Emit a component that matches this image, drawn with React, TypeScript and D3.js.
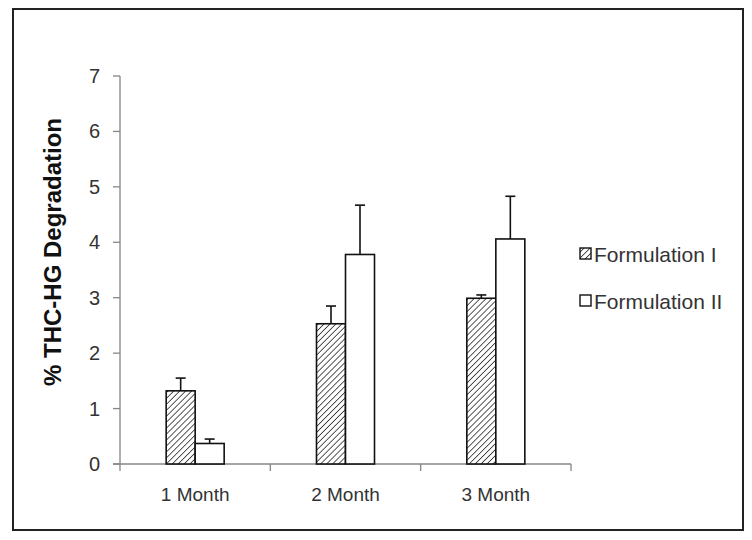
import React from "react";
import * as d3 from "d3";

const categories = ["1 Month", "2 Month", "3 Month"];
const series = ["Formulation I", "Formulation II"];
const formulationI = [1.32, 2.53, 2.99];
const formulationII = [0.37, 3.78, 4.06];
const errorI = [0.23, 0.32, 0.06];
const errorII = [0.08, 0.89, 0.77];
const yTicks = [0, 1, 2, 3, 4, 5, 6, 7];
const yTitle = "% THC-HG Degradation";

const W = 752;
const H = 540;
const FONT = "'Liberation Sans', Arial, sans-serif";

export default function App() {
  const x0 = d3.scaleBand<string>().domain(categories).range([120, 571]).padding(0);
  const barW = 29;
  const x1 = d3
    .scaleBand<string>()
    .domain(series)
    .range([(x0.bandwidth() - 2 * barW) / 2, (x0.bandwidth() + 2 * barW) / 2])
    .padding(0);
  const y = d3.scaleLinear().domain([0, 7]).range([464, 76]);

  const values = [formulationI, formulationII];
  const errors = [errorI, errorII];

  return (
    <svg
      width={W}
      height={H}
      style={{ position: "absolute", left: 0, top: 0, background: "#fff" }}
      fontFamily={FONT}
    >
      <defs>
        <pattern id="hatch" patternUnits="userSpaceOnUse" width="4.2" height="4.2" patternTransform="rotate(45)">
          <rect width="4.2" height="4.2" fill="#fff" />
          <line x1="0" y1="0" x2="0" y2="4.2" stroke="#111" strokeWidth="1.4" />
        </pattern>
      </defs>
      <rect x={0} y={0} width={W} height={H} fill="#fff" />
      <rect x={13} y={9} width={730} height={521} fill="none" stroke="#222" strokeWidth={2} />

      {/* y axis */}
      <line x1={120} x2={120} y1={y(7)} y2={y(0)} stroke="#868686" strokeWidth={1.3} />
      {yTicks.map((t) => (
        <g key={t}>
          <line x1={113} x2={120} y1={y(t)} y2={y(t)} stroke="#868686" strokeWidth={1.3} />
          <text x={100} y={y(t)} dy="0.35em" textAnchor="end" fontSize={20} fill="#333">
            {t}
          </text>
        </g>
      ))}

      {/* x axis */}
      <line x1={113} x2={571} y1={y(0)} y2={y(0)} stroke="#868686" strokeWidth={1.3} />
      {[...categories.map((c) => x0(c) as number), 571].map((v, i) => (
        <line key={i} x1={v} x2={v} y1={y(0)} y2={y(0) + 7} stroke="#868686" strokeWidth={1.3} />
      ))}
      {categories.map((c) => (
        <text
          key={c}
          x={(x0(c) as number) + x0.bandwidth() / 2}
          y={501}
          textAnchor="middle"
          fontSize={19}
          fill="#333"
        >
          {c}
        </text>
      ))}

      {/* bars */}
      {categories.map((c, ci) =>
        series.map((s, si) => {
          const bx = (x0(c) as number) + (x1(s) as number);
          const v = values[si][ci];
          const e = errors[si][ci];
          const cx = bx + barW / 2;
          return (
            <g key={c + s}>
              <line x1={cx} x2={cx} y1={y(v)} y2={y(v + e)} stroke="#111" strokeWidth={1.6} />
              <line x1={cx - 5} x2={cx + 5} y1={y(v + e)} y2={y(v + e)} stroke="#111" strokeWidth={1.6} />
              <rect
                x={bx}
                y={y(v)}
                width={barW}
                height={y(0) - y(v)}
                fill={si === 0 ? "url(#hatch)" : "#fff"}
                stroke="#111"
                strokeWidth={1.6}
              />
            </g>
          );
        })
      )}

      {/* y title */}
      <text
        transform={`translate(61,252) rotate(-90)`}
        textAnchor="middle"
        fontSize={24}
        fontWeight="bold"
        fill="#111"
      >
        {yTitle}
      </text>

      {/* legend */}
      {series.map((s, si) => {
        const cy = 254 + si * 47;
        return (
          <g key={s}>
            <rect
              x={580}
              y={cy - 6}
              width={11}
              height={11}
              fill={si === 0 ? "url(#hatch)" : "#fff"}
              stroke="#111"
              strokeWidth={1.4}
            />
            <text x={594} y={cy} dy="0.36em" fontSize={21} fill="#333">
              {s}
            </text>
          </g>
        );
      })}
    </svg>
  );
}
